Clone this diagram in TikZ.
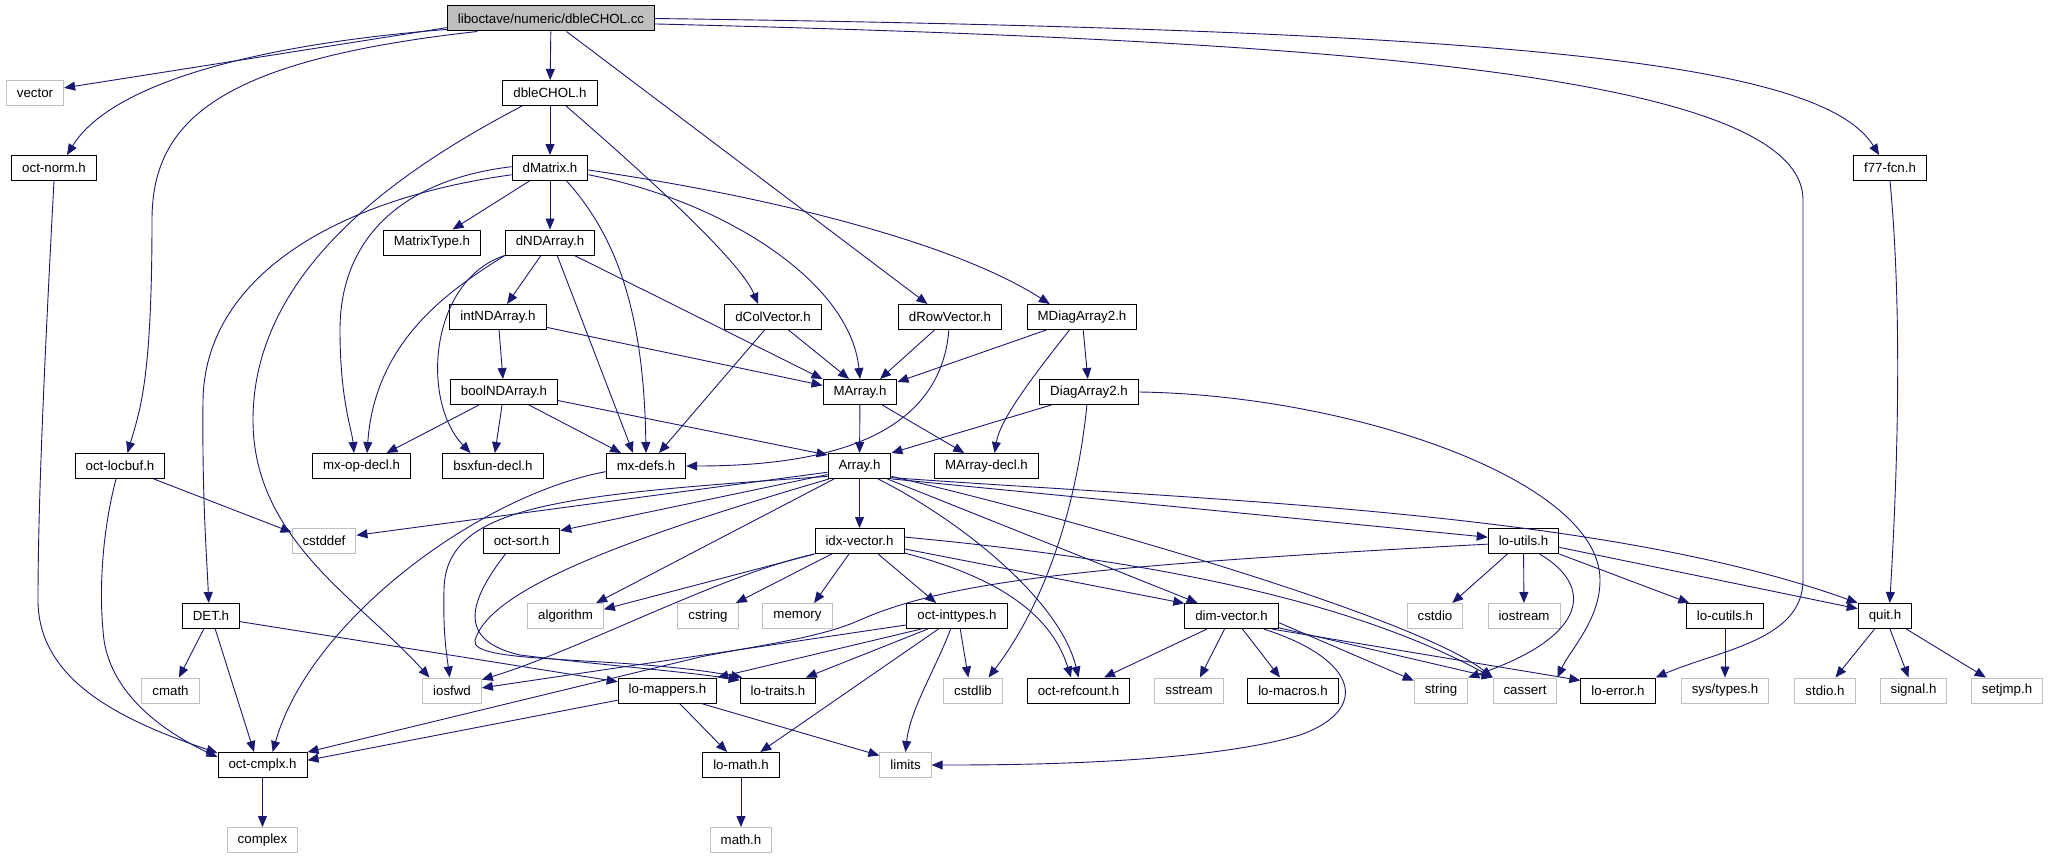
\documentclass[tikz,border=0pt]{standalone}
\usepackage{fontspec}
\setmainfont{Liberation Sans}
\usetikzlibrary{arrows.meta}
\definecolor{edgeblue}{HTML}{191970}
\definecolor{sysgrey}{HTML}{BFBFBF}

\begin{document}
\begin{tikzpicture}[x=1pt,y=-1pt,
	every node/.style={font=\fontsize{13.3}{15}\selectfont,inner xsep=10.5pt,inner ysep=0pt,minimum height=25pt},
	hdr/.style={draw=black,line width=1pt,fill=white},
	sys/.style={draw=sysgrey,line width=1pt,fill=white},
	rootbox/.style={draw=black,line width=1pt,fill=sysgrey},
	dep/.style={draw=edgeblue,line width=0.9pt,-{Triangle[length=11pt,width=9pt]}}]
		\useasboundingbox (0,0) rectangle (2048,859);
		\node[rootbox] (root) at (551,18.5) {liboctave/numeric/dbleCHOL.cc};
		\node[sys] (vector) at (35,93) {vector};
		\node[hdr] (dbleCHOL) at (550,93) {dbleCHOL.h};
		\node[hdr] (octnorm) at (54,168) {oct-norm.h};
		\node[hdr] (dMatrix) at (550,168) {dMatrix.h};
		\node[hdr] (f77fcn) at (1890,168) {f77-fcn.h};
		\node[hdr] (MatrixType) at (432,242.5) {MatrixType.h};
		\node[hdr] (dNDArray) at (550,242.5) {dNDArray.h};
		\node[hdr] (intNDArray) at (498,317) {intNDArray.h};
		\node[hdr] (dColVector) at (773,317) {dColVector.h};
		\node[hdr] (dRowVector) at (950,317) {dRowVector.h};
		\node[hdr] (MDiagArray) at (1082,317) {MDiagArray2.h};
		\node[hdr] (boolNDArray) at (504,392) {boolNDArray.h};
		\node[hdr] (MArray) at (860,392) {MArray.h};
		\node[hdr] (DiagArray) at (1089,392) {DiagArray2.h};
		\node[hdr] (octlocbuf) at (120,466) {oct-locbuf.h};
		\node[hdr] (mxopdecl) at (361.5,466) {mx-op-decl.h};
		\node[hdr] (bsxfun) at (493,466) {bsxfun-decl.h};
		\node[hdr] (mxdefs) at (646,466) {mx-defs.h};
		\node[hdr] (Array) at (859.5,466) {Array.h};
		\node[hdr] (MArraydecl) at (986.5,466) {MArray-decl.h};
		\node[sys] (cstddef) at (324,541) {cstddef};
		\node[hdr] (octsort) at (521.5,541) {oct-sort.h};
		\node[hdr] (idxvector) at (859.5,541) {idx-vector.h};
		\node[hdr] (loutils) at (1523.5,541) {lo-utils.h};
		\node[hdr] (DET) at (211,616) {DET.h};
		\node[sys] (algorithm) at (565.5,616) {algorithm};
		\node[sys] (cstring) at (708,616) {cstring};
		\node[sys] (memory) at (797.5,616) {memory};
		\node[hdr] (octinttypes) at (957,616) {oct-inttypes.h};
		\node[hdr] (dimvector) at (1231.5,616) {dim-vector.h};
		\node[sys] (cstdio) at (1435,616) {cstdio};
		\node[sys] (iostream) at (1524,616) {iostream};
		\node[hdr] (locutils) at (1725,616) {lo-cutils.h};
		\node[hdr] (quit) at (1885,616) {quit.h};
		\node[sys] (cmath) at (170.5,690.5) {cmath};
		\node[sys] (iosfwd) at (452,690.5) {iosfwd};
		\node[hdr] (lomappers) at (667.5,690.5) {lo-mappers.h};
		\node[hdr] (lotraits) at (778,690.5) {lo-traits.h};
		\node[sys] (cstdlib) at (973,690.5) {cstdlib};
		\node[hdr] (octrefcount) at (1078.5,690.5) {oct-refcount.h};
		\node[sys] (sstream) at (1189,690.5) {sstream};
		\node[hdr] (lomacros) at (1293,690.5) {lo-macros.h};
		\node[sys] (string) at (1441,690.5) {string};
		\node[sys] (cassert) at (1525,690.5) {cassert};
		\node[hdr] (loerror) at (1618,690.5) {lo-error.h};
		\node[sys] (systypes) at (1725,690.5) {sys/types.h};
		\node[sys] (stdio) at (1825,690.5) {stdio.h};
		\node[sys] (signal) at (1913.5,690.5) {signal.h};
		\node[sys] (setjmp) at (2007,690.5) {setjmp.h};
		\node[hdr] (octcmplx) at (262.5,765) {oct-cmplx.h};
		\node[hdr] (lomath) at (741,765) {lo-math.h};
		\node[sys] (limits) at (905.5,765) {limits};
		\node[sys] (complex) at (262.5,840) {complex};
		\node[sys] (mathh) at (741,840) {math.h};

		\draw[dep] (root.185) -- (vector.10);
		\draw[dep] (root.186) .. controls (250,45) and (110,85) .. (octnorm.45);
		\draw[dep] (root.190) .. controls (220,60) and (152,120) .. (152,220) .. controls (152,380) and (140,410) .. (octlocbuf.60);
		\draw[dep] (root) -- (dbleCHOL);
		\draw[dep] (root.320) -- (dRowVector.150);
		\draw[dep] (root.-3) .. controls (1300,40) and (1803,70) .. (1803,200) -- (1803,580) .. controls (1803,640) and (1720,650) .. (loerror.north east);
		\draw[dep] (root.east) .. controls (1500,30) and (1820,60) .. (f77fcn.130);

		\draw[dep] (dbleCHOL) -- (dMatrix);
		\draw[dep] (dbleCHOL.-39) .. controls (640,170) and (740,260) .. (dColVector.139);
		\draw[dep] (dbleCHOL.205) .. controls (380,180) and (253,280) .. (253,420) .. controls (253,540) and (360,600) .. (iosfwd.150);

		\draw[dep] (dMatrix) -- (MatrixType);
		\draw[dep] (dMatrix) -- (dNDArray);
		\draw[dep] (dMatrix.190) .. controls (330,200) and (205,280) .. (203,400) .. controls (202,500) and (207,560) .. (DET.100);
		\draw[dep] (dMatrix.178) .. controls (400,180) and (340,240) .. (340,330) .. controls (340,400) and (352,430) .. (mxopdecl.120);
		\draw[dep] (dMatrix.-38) .. controls (620,240) and (644,320) .. (mxdefs.north);
		\draw[dep] (dMatrix.-10) .. controls (720,200) and (850,280) .. (MArray.north);
		\draw[dep] (dMatrix.-3) .. controls (760,195) and (950,240) .. (MDiagArray.158);

		\draw[dep] (dNDArray) -- (intNDArray);
		\draw[dep] (dNDArray.south west) .. controls (450,290) and (375,340) .. (mxopdecl.67);
		\draw[dep] (dNDArray.south west) .. controls (430,280) and (420,400) .. (bsxfun.150);
		\draw[dep] (dNDArray.-61) -- (mxdefs.135);
		\draw[dep] (dNDArray.-28) -- (MArray.north west);

		\draw[dep] (intNDArray.-12) -- (MArray.170);
		\draw[dep] (intNDArray) -- (boolNDArray);
		\draw[dep] (boolNDArray) -- (mxopdecl);
		\draw[dep] (boolNDArray) -- (bsxfun);
		\draw[dep] (boolNDArray) -- (mxdefs);
		\draw[dep] (boolNDArray.-9) -- (Array.161);

		\draw[dep] (dColVector.-40) -- (MArray.130);
		\draw[dep] (dColVector.237) -- (mxdefs.45);
		\draw[dep] (dRowVector.220) -- (MArray.33);
		\draw[dep] (dRowVector.265) .. controls (940,440) and (820,466) .. (mxdefs.east);
		\draw[dep] (MDiagArray.200) -- (MArray.15);
		\draw[dep] (MDiagArray) -- (DiagArray);
		\draw[dep] (MDiagArray.226) .. controls (1030,380) and (1000,420) .. (MArraydecl.58);
		\draw[dep] (DiagArray.199) -- (Array.north east);
		\draw[dep] (DiagArray.261) .. controls (1075,520) and (1040,610) .. (cstdlib.40);
		\draw[dep] (DiagArray.east) .. controls (1350,395) and (1600,480) .. (1600,580) .. controls (1600,620) and (1570,650) .. (cassert.north east);
		\draw[dep] (MArray) -- (Array);
		\draw[dep] (MArray) -- (MArraydecl);

		\draw[dep] (mxdefs.188) .. controls (480,495) and (310,620) .. (octcmplx.52);
		\draw[dep] (octnorm.south) .. controls (45,350) and (38,500) .. (38,600) .. controls (38,680) and (120,720) .. (octcmplx.165);
		\draw[dep] (octlocbuf.-21) -- (cstddef.165);
		\draw[dep] (octlocbuf.253) .. controls (100,540) and (100,600) .. (103,630) .. controls (106,690) and (160,730) .. (octcmplx.170);

		\draw[dep] (Array.191) -- (cstddef.10);
		\draw[dep] (Array.195) -- (octsort.15);
		\draw[dep] (Array.198) .. controls (560,495) and (445,505) .. (444,590) .. controls (443,630) and (446,650) .. (iosfwd.100);
		\draw[dep] (Array.203) .. controls (620,540) and (490,590) .. (475,640) .. controls (468,665) and (620,655) .. (lotraits.160);
		\draw[dep] (Array.207) -- (algorithm.23);
		\draw[dep] (Array) -- (idxvector);
		\draw[dep] (Array.-25) -- (dimvector.159);
		\draw[dep] (Array.-35) .. controls (960,520) and (1060,600) .. (octrefcount.north);
		\draw[dep] (Array.-18) .. controls (1100,525) and (1420,620) .. (cassert.north west);
		\draw[dep] (Array.-22) -- (loutils.174);
		\draw[dep] (Array.-20) .. controls (1200,500) and (1600,510) .. (quit.north west);
		\draw[dep] (octsort.219) .. controls (470,600) and (455,640) .. (520,655) .. controls (600,665) and (690,672) .. (lotraits.165);

		\draw[dep] (idxvector.south west) -- (algorithm.10);
		\draw[dep] (idxvector.south west) .. controls (720,575) and (580,650) .. (iosfwd.20);
		\draw[dep] (idxvector.205) -- (cstring.25);
		\draw[dep] (idxvector.231) -- (memory.38);
		\draw[dep] (idxvector.-35) -- (octinttypes.148);
		\draw[dep] (idxvector.-10) -- (dimvector.165);
		\draw[dep] (idxvector.-15) .. controls (990,575) and (1050,610) .. (octrefcount.120);
		\draw[dep] (idxvector.5) .. controls (1150,560) and (1350,600) .. (cassert.north west);

		\draw[dep] (dimvector.208) -- (octrefcount.27);
		\draw[dep] (dimvector.242) -- (sstream.50);
		\draw[dep] (dimvector.-50) -- (lomacros.135);
		\draw[dep] (dimvector.-8) -- (string.160);
		\draw[dep] (dimvector.-14) -- (cassert.north west);
		\draw[dep] (dimvector.-18) -- (loerror.165);
		\draw[dep] (dimvector.-22) .. controls (1360,660) and (1370,710) .. (1300,735) .. controls (1200,765) and (1000,765) .. (limits.east);

		\draw[dep] (octinttypes.190) -- (iosfwd.5);
		\draw[dep] (octinttypes.200) -- (lomappers.north east);
		\draw[dep] (octinttypes.204) -- (lotraits.25);
		\draw[dep] (octinttypes.215) -- (lomath.34);
		\draw[dep] (octinttypes.244) .. controls (935,670) and (910,710) .. (limits.north);
		\draw[dep] (octinttypes.284) -- (cstdlib.110);

		\draw[dep] (lomappers.191) -- (octcmplx.6);
		\draw[dep] (lomappers.-47) -- (lomath.137);
		\draw[dep] (lomappers.-21) -- (limits.160);
		\draw[dep] (lomath) -- (mathh);
		\draw[dep] (octcmplx) -- (complex);
		\draw[dep] (DET.241) -- (cmath.57);
		\draw[dep] (DET.-72) -- (octcmplx.123);
		\draw[dep] (DET.-11) -- (lomappers.170);

		\draw[dep] (loutils.185) .. controls (1100,565) and (950,580) .. (860,620) .. controls (820,638) and (760,645) .. (700,657) -- (octcmplx.16);
		\draw[dep] (loutils.219) -- (cstdio.37);
		\draw[dep] (loutils) -- (iostream);
		\draw[dep] (loutils.-39) .. controls (1600,590) and (1580,640) .. (string.north east);
		\draw[dep] (loutils.south east) -- (locutils.160);
		\draw[dep] (loutils.-10) -- (quit.165);
		\draw[dep] (locutils) -- (systypes);
		\draw[dep] (f77fcn.south) .. controls (1903,320) and (1897,480) .. (quit.70);
		\draw[dep] (quit) -- (stdio);
		\draw[dep] (quit) -- (signal);
		\draw[dep] (quit) -- (setjmp);
	\end{tikzpicture}
\end{document}
